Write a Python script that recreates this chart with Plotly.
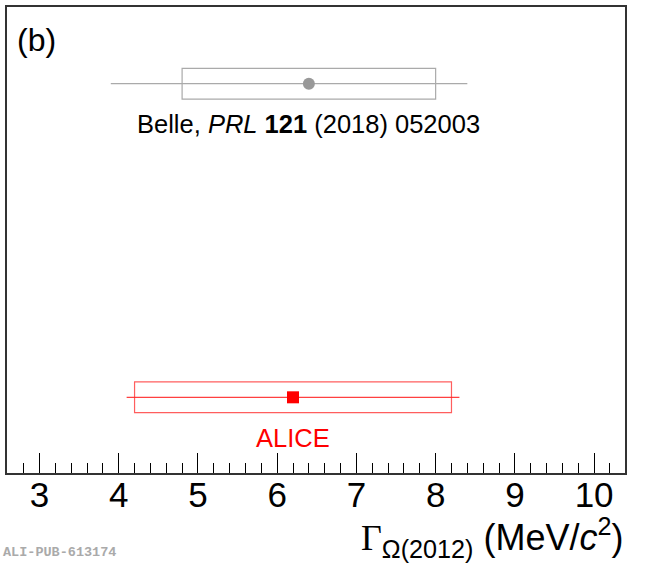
import plotly.graph_objects as go

# ---- data ----
experiments = ["ALICE", "Belle"]
labels = ["ALICE", "Belle, <i>PRL</i> <b>121</b> (2018) 052003"]
level = [0, 1]
width_val = [6.2, 6.4]
stat_lo = [2.1, 2.5]
stat_hi = [2.1, 2.0]
syst = [2.0, 1.6]
tick_vals = [3, 4, 5, 6, 7, 8, 9, 10]

colors_pt = ["#ff0000", "#999999"]
colors_box = ["rgba(255,40,40,0.75)", "#aaaaaa"]
symbols = ["square", "circle"]
label_colors = ["#ff0000", "#000000"]

fig = go.Figure()
box_h = 0.049
for i in range(len(experiments)):
    # systematic box
    fig.add_shape(type="rect", xref="x", yref="y",
                  x0=width_val[i] - syst[i], x1=width_val[i] + syst[i],
                  y0=level[i] - box_h, y1=level[i] + box_h,
                  line=dict(color=colors_box[i], width=1.2), fillcolor="rgba(0,0,0,0)")
    fig.add_trace(go.Scatter(
        x=[width_val[i]], y=[level[i]], mode="markers",
        marker=dict(symbol=symbols[i], size=12, color=colors_pt[i],
                    line=dict(width=0)),
        error_x=dict(type="data", symmetric=False, array=[stat_hi[i]], arrayminus=[stat_lo[i]],
                     color=colors_box[i] if i == 1 else "rgba(255,30,30,0.85)",
                     thickness=1.2, width=0),
        showlegend=False, hoverinfo="skip"))
    fig.add_annotation(x=width_val[i], y=level[i] - 0.13, xref="x", yref="y",
                       text=labels[i], showarrow=False, yanchor="middle",
                       font=dict(size=25.5, color=label_colors[i], family="Liberation Sans"))

fig.update_xaxes(range=[2.59, 10.39], tickvals=tick_vals, ticktext=[str(v) for v in tick_vals],
                 ticks="inside", ticklen=20, tickwidth=1, tickcolor="black",
                 minor=dict(dtick=0.2, ticks="inside", ticklen=10, tickwidth=1, tickcolor="black"),
                 showline=True, mirror=True, linecolor="#333333", linewidth=1.5,
                 showgrid=False, zeroline=False, ticklabelstandoff=-10,
                 tickfont=dict(size=35, color="black", family="Liberation Sans"))
fig.update_yaxes(range=[-0.2413, 1.2444], showticklabels=False, ticks="",
                 showline=True, mirror=True, linecolor="#333333", linewidth=1.5,
                 showgrid=False, zeroline=False)

fig.add_annotation(x=1.0, y=-0.139, xref="paper", yref="paper", xanchor="right", yanchor="middle",
                   text="<span style='font-family:Liberation Serif'>Γ</span><sub>Ω(2012)</sub> (MeV/<i>c</i><sup>2</sup>)",
                   showarrow=False, font=dict(size=36, color="black", family="Liberation Sans"))
fig.add_annotation(x=0.013, y=0.929, xref="paper", yref="paper", xanchor="left", yanchor="middle",
                   text="(b)", showarrow=False,
                   font=dict(size=32, color="black", family="Liberation Sans"))
fig.add_annotation(x=-0.009, y=-0.171, xref="paper", yref="paper", xanchor="left", yanchor="middle",
                   text="<b>ALI-PUB-613174</b>", showarrow=False,
                   font=dict(size=13.5, color="#aaaaaa", family="Liberation Mono"))

fig.update_layout(width=650, height=564, margin=dict(l=7, r=25, t=5, b=91),
                  plot_bgcolor="white", paper_bgcolor="white")
fig.write_html("out.html", config={"displayModeBar": False},
               post_script="document.body.style.margin='0px';")
